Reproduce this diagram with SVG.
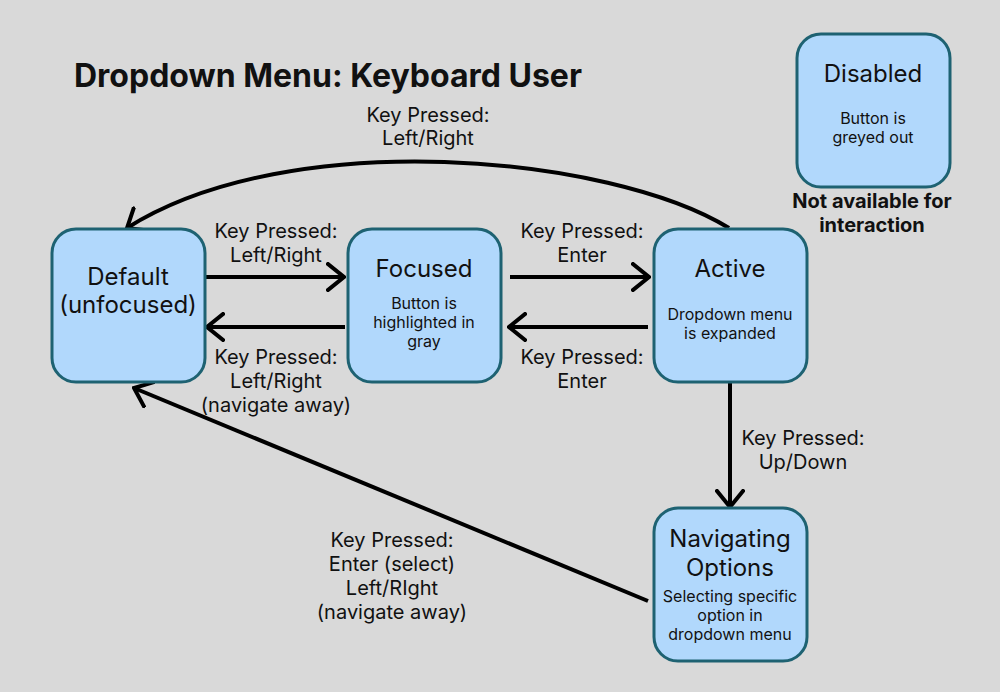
<svg xmlns="http://www.w3.org/2000/svg" width="1000" height="692" viewBox="0 0 1000 692">
<defs>
<style>
.node rect{fill:#b1d8fc;stroke:#1e6272;stroke-width:3}
text{font-family:Inter,"Noto Sans","Liberation Sans",sans-serif;fill:#111;text-anchor:middle}
.t{font-size:24px}
.s{font-size:16px}
.l{font-size:20px}
.b{font-size:20px;font-weight:700}
.title{font-size:32px;font-weight:700;text-anchor:start}
.conn path{fill:none;stroke:#000;stroke-width:4;marker-end:url(#ah)}
</style>
<marker id="ah" viewBox="0 0 20 30" refX="18" refY="15" markerWidth="20" markerHeight="30" markerUnits="userSpaceOnUse" orient="auto">
<path d="M2,2 L18,15 L2,28" fill="none" stroke="#000" stroke-width="4" stroke-linecap="square"/>
</marker>
</defs>
<rect width="1000" height="692" fill="#d9d9d9"/>
<text class="title" x="74" y="87">Dropdown Menu: Keyboard User</text>

<g class="conn" id="connectors">
<path d="M205,277 L344,277"/>
<path d="M345,327 L207,327"/>
<path d="M510,277 L649,277"/>
<path d="M648,327 L509,327"/>
<path d="M730,383 L730,507"/>
<path d="M729,228 C610,155 290,125 127,228"/>
<path d="M648,601 L134,388"/>
</g>

<g id="labels">
<text class="l" x="428" y="122">Key Pressed:</text>
<text class="l" x="428" y="145">Left/Right</text>
<text class="l" x="276" y="238">Key Pressed:</text>
<text class="l" x="276" y="262">Left/Right</text>
<text class="l" x="276" y="364">Key Pressed:</text>
<text class="l" x="276" y="388">Left/Right</text>
<text class="l" x="276" y="412">(navigate away)</text>
<text class="l" x="582" y="238">Key Pressed:</text>
<text class="l" x="582" y="262">Enter</text>
<text class="l" x="582" y="364">Key Pressed:</text>
<text class="l" x="582" y="388">Enter</text>
<text class="l" x="803" y="445">Key Pressed:</text>
<text class="l" x="803" y="469">Up/Down</text>
<text class="l" x="392" y="547">Key Pressed:</text>
<text class="l" x="392" y="571">Enter (select)</text>
<text class="l" x="392" y="595">Left/RIght</text>
<text class="l" x="392" y="619">(navigate away)</text>
</g>

<g class="node" id="default">
<rect x="52" y="229" width="153" height="153" rx="24"/>
<text class="t" x="128" y="285">Default</text>
<text class="t" x="128" y="313">(unfocused)</text>
</g>
<g class="node" id="focused">
<rect x="348" y="229" width="153" height="153" rx="24"/>
<text class="t" x="424" y="277">Focused</text>
<text class="s" x="424" y="309">Button is</text>
<text class="s" x="424" y="328">highlighted in</text>
<text class="s" x="424" y="347">gray</text>
</g>
<g class="node" id="active">
<rect x="654" y="229" width="153" height="153" rx="24"/>
<text class="t" x="730" y="277">Active</text>
<text class="s" x="730" y="320">Dropdown menu</text>
<text class="s" x="730" y="339">is expanded</text>
</g>
<g class="node" id="disabled">
<rect x="797" y="34" width="153" height="153" rx="24"/>
<text class="t" x="873" y="82">Disabled</text>
<text class="s" x="873" y="124">Button is</text>
<text class="s" x="873" y="143">greyed out</text>
</g>
<g id="disabled-note">
<text class="b" x="872" y="208">Not available for</text>
<text class="b" x="872" y="232">interaction</text>
</g>
<g class="node" id="navigating">
<rect x="654" y="508" width="153" height="153" rx="24"/>
<text class="t" x="730" y="547">Navigating</text>
<text class="t" x="730" y="576">Options</text>
<text class="s" x="730" y="602">Selecting specific</text>
<text class="s" x="730" y="621">option in</text>
<text class="s" x="730" y="640">dropdown menu</text>
</g>
</svg>
